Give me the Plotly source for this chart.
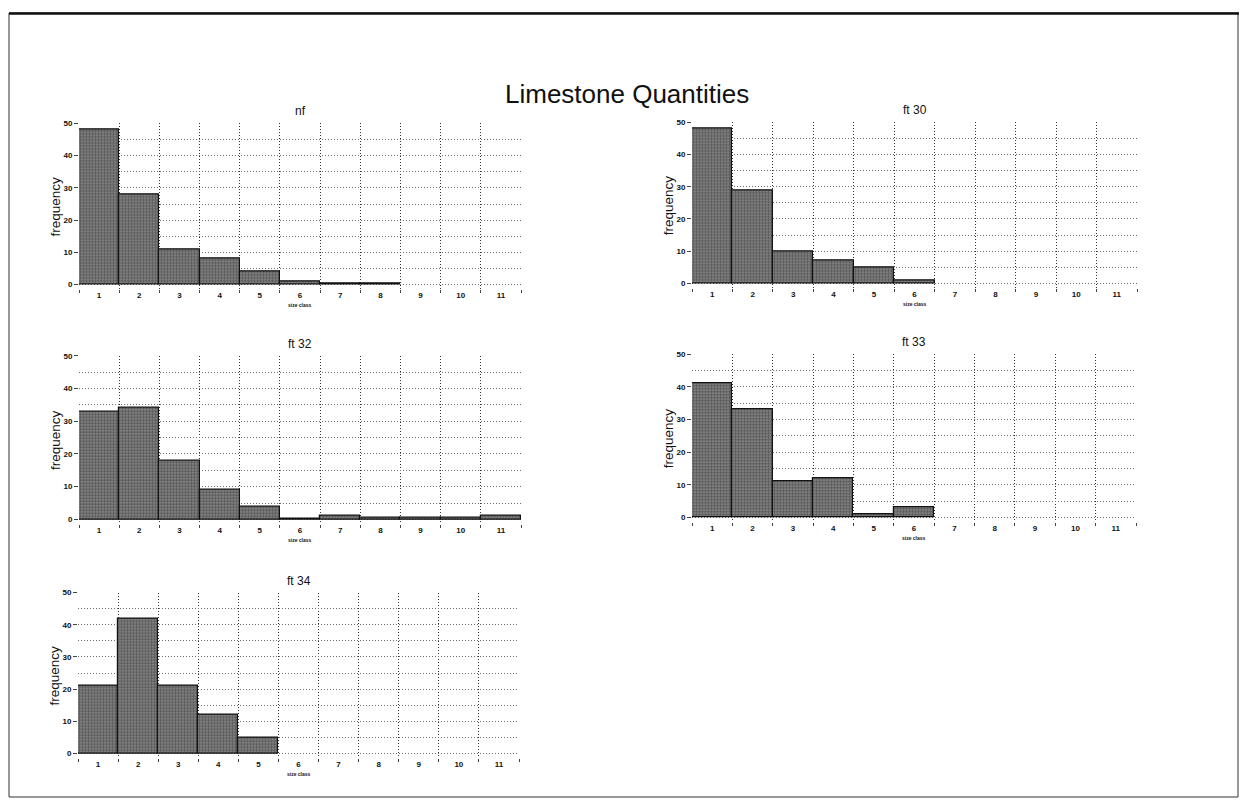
import plotly.graph_objects as go

# the page places the figure 8px in from the top-left corner of the window
OFF = 8
W, H = 1247 - 2 * OFF, 806 - 2 * OFF

classes = list(range(1, 12))
class_labels = [str(c) for c in classes]
nf = [48, 28, 11, 8, 4, 1, 0.5, 0.5, 0, 0, 0]
ft30 = [48, 29, 10, 7, 5, 1, 0, 0, 0, 0, 0]
ft32 = [33, 34, 18, 9, 4, 0.3, 1.2, 0.4, 0.4, 0.4, 1.2]
ft33 = [41, 33, 11, 12, 1, 3, 0, 0, 0, 0, 0]
ft34 = [21, 42, 21, 12, 5, 0, 0, 0, 0, 0, 0]

panel_names = ["nf", "ft 30", "ft 32", "ft 33", "ft 34"]
panel_data = [nf, ft30, ft32, ft33, ft34]
y_ticks = [0, 10, 20, 30, 40, 50]
title_text = "Limestone Quantities"

# window-pixel boxes: (left, right, top(at 50), zero)
boxes = [
    (79, 521, 120, 282),
    (692, 1137, 119, 280.7),
    (79, 521, 353.5, 518),
    (692, 1136, 352, 516),
    (78, 519, 591.6, 753.3),
]
YMIN = -1.5
YMAX = 50


def px(x):
    return (x - OFF) / W


def py(y):
    return 1 - (y - OFF) / H


fig = go.Figure()
annotations = []
FONT = "Liberation Sans, Arial, sans-serif"
GRID = "#6f6f6f"
DASH = "1px,2px"

for i, (name, vals, box) in enumerate(zip(panel_names, panel_data, boxes)):
    l, r, t, z = box
    unit = (z - t) / YMAX
    b = z - YMIN * unit
    ax = "" if i == 0 else str(i + 1)
    yvals = [v if v > 0 else None for v in vals]
    fig.add_trace(go.Bar(
        x=classes, y=yvals, width=1,
        marker=dict(color="#5f5f5f",
                    line=dict(color="#111111", width=1.2),
                    pattern=dict(shape=".", fgcolor="#202020", bgcolor="#8c8c8c",
                                 size=3, solidity=0.55)),
        xaxis="x" + ax, yaxis="y" + ax, showlegend=False,
    ))
    fig.layout["xaxis" + ax] = dict(
        domain=[px(l), px(r)], anchor="y" + ax, range=[0.5, 11.5],
        tickmode="array", tickvals=classes, ticktext=class_labels,
        showgrid=False, zeroline=False, showline=False, ticks="",
        tickfont=dict(family=FONT, size=8, color="#111", weight="bold"),
        minor=dict(tickmode="array", tickvals=[c + 0.5 for c in range(0, 12)],
                   showgrid=True, gridcolor="#333", griddash=DASH, gridwidth=1,
                   ticks="outside", ticklen=3, tickcolor="#444"),
        fixedrange=True,
    )
    fig.layout["yaxis" + ax] = dict(
        domain=[py(b), py(t)], anchor="x" + ax, range=[YMIN, YMAX],
        tickmode="array", tickvals=y_ticks,
        showgrid=True, gridcolor=GRID, griddash=DASH, gridwidth=1,
        zeroline=False, showline=False, ticks="outside", ticklen=4, tickcolor="#444",
        tickfont=dict(family=FONT, size=8, color="#111", weight="bold"),
        minor=dict(dtick=5, showgrid=True, gridcolor=GRID, griddash=DASH, gridwidth=1),
        fixedrange=True,
    )
    cx = (l + r) / 2
    annotations.append(dict(text=name, x=px(cx), y=py(t - 12), xref="paper", yref="paper",
                            xanchor="center", yanchor="middle", showarrow=False,
                            font=dict(family=FONT, size=12, color="#111")))
    annotations.append(dict(text="frequency", x=px(l - 24), y=py((t + b) / 2), xref="paper",
                            yref="paper", xanchor="center", yanchor="middle",
                            showarrow=False, textangle=-90,
                            font=dict(family=FONT, size=13.5, color="#111")))
    annotations.append(dict(text="size class", x=px(cx), y=py(b + 16), xref="paper",
                            yref="paper", xanchor="center", yanchor="middle", showarrow=False,
                            font=dict(family=FONT, size=5, color="#111", weight="bold")))

annotations.append(dict(text=title_text, x=px(627), y=py(90), xref="paper", yref="paper",
                        xanchor="center", yanchor="middle", showarrow=False,
                        font=dict(family=FONT, size=26, color="#111")))

shapes = [
    dict(type="rect", xref="paper", yref="paper", x0=px(9), x1=px(1238), y0=py(797), y1=py(9),
         line=dict(color="#333", width=1)),
    dict(type="line", xref="paper", yref="paper", x0=px(9), x1=px(1239), y0=py(9.5), y1=py(9.5),
         line=dict(color="#111", width=2.5)),
]

fig.update_layout(
    width=W, height=H,
    margin=dict(l=0, r=0, t=0, b=0),
    paper_bgcolor="white", plot_bgcolor="white",
    annotations=annotations, shapes=shapes,
    bargap=0,
)

fig.write_html("out.html")
